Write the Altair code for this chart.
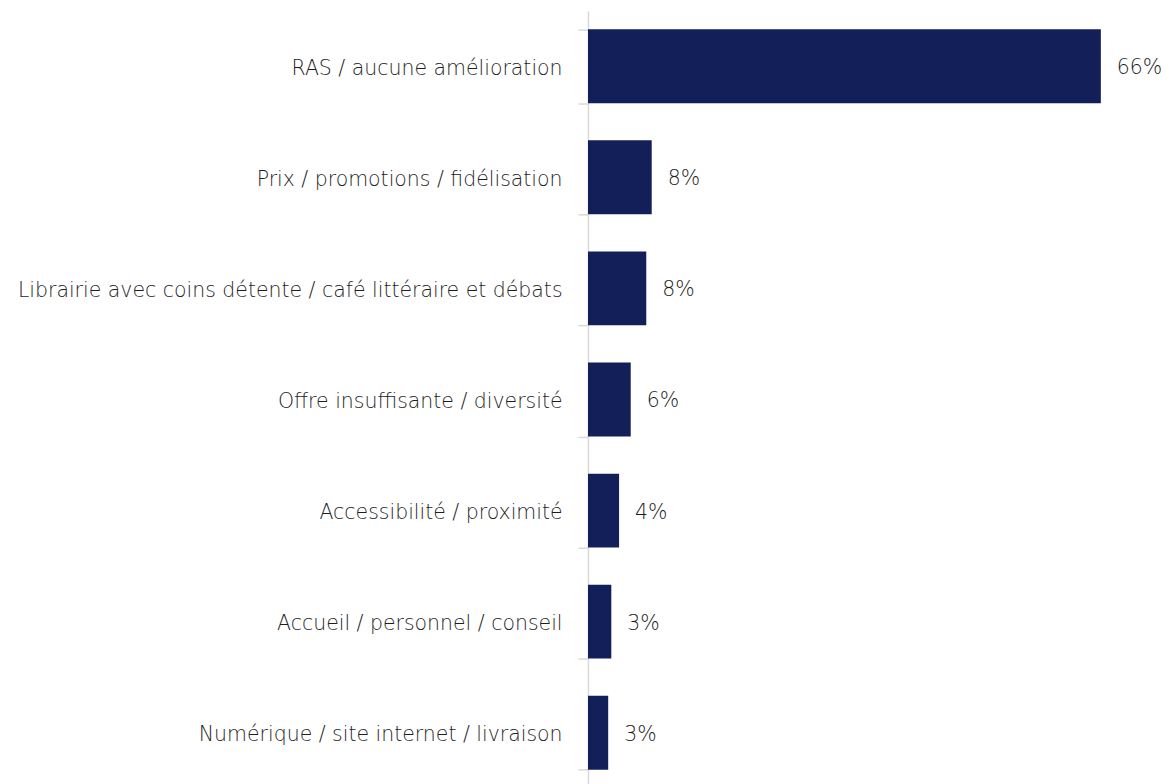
import altair as alt
import pandas as pd

categories = [
    "RAS / aucune amélioration",
    "Prix / promotions / fidélisation",
    "Librairie avec coins détente / café littéraire et débats",
    "Offre insuffisante / diversité",
    "Accessibilité / proximité",
    "Accueil / personnel / conseil",
    "Numérique / site internet / livraison",
]
values = [66.0, 8.2, 7.5, 5.5, 4.0, 3.0, 2.6]
labels = ["66%", "8%", "8%", "6%", "4%", "3%", "3%"]

df = pd.DataFrame({"cat": categories, "val": values, "lab": labels})

FONT = "DejaVu Sans"
FS = 20.5
FW = 200
TXT = "#1e1e1e"
y_enc = alt.Y(
    "cat:N",
    sort=categories,
    title=None,
    scale=alt.Scale(paddingInner=0.335, paddingOuter=0.1675),
    axis=alt.Axis(
        domainColor="#d9d9d9",
        domainWidth=1.5,
        tickColor="#d9d9d9",
        tickWidth=1.5,
        tickSize=10,
        tickBand="extent",
        labelPadding=16,
        labelOffset=2,
        labelFont=FONT,
        labelFontSize=FS,
        labelFontWeight=FW,
        labelColor=TXT,
        labelLimit=0,
    ),
)
x_enc = alt.X(
    "val:Q",
    title=None,
    axis=None,
    scale=alt.Scale(domain=[0, 74], nice=False),
)

bars = alt.Chart(df).mark_bar(color="#131f58").encode(x=x_enc, y=y_enc)
text = alt.Chart(df).mark_text(
    align="left", baseline="middle", dx=16, dy=2, font=FONT, fontSize=FS, fontWeight=FW,
    color=TXT
).encode(x=x_enc, y=alt.Y("cat:N", sort=categories), text="lab:N")

chart = (
    alt.layer(bars, text)
    .properties(
        width=576,
        height=779,
        autosize=alt.AutoSizeParams(type="none"),
        padding={"left": 581, "top": 2, "right": 0, "bottom": 0},
    )
    .configure_view(stroke=None)
)

chart.save("out.html", embed_options={"renderer": "svg", "actions": False})
